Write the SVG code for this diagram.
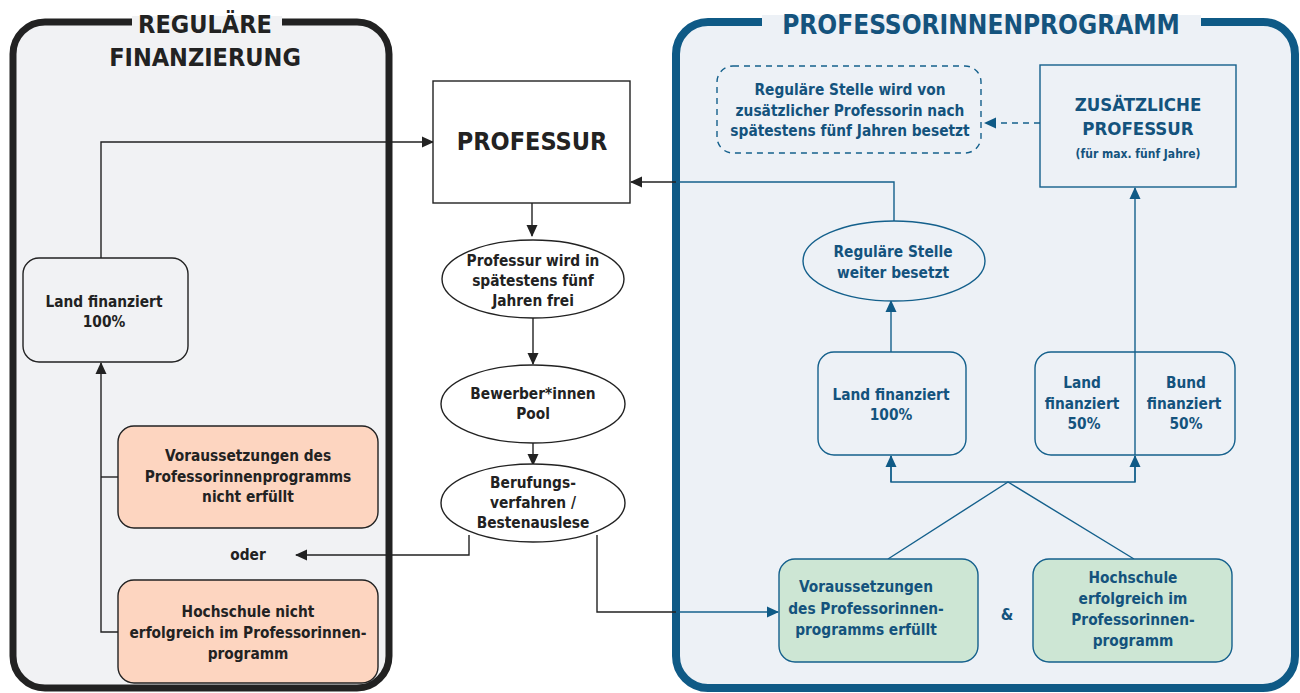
<svg xmlns="http://www.w3.org/2000/svg" width="1300" height="693" viewBox="0 0 1300 693">
<defs>
<marker id="ad" markerUnits="userSpaceOnUse" markerWidth="12" markerHeight="12" viewBox="0 0 12 12" refX="11" refY="6" orient="auto"><path d="M0,0.5 L12,6 L0,11.5 Z" fill="#222"/></marker>
<marker id="ab" markerUnits="userSpaceOnUse" markerWidth="12" markerHeight="12" viewBox="0 0 12 12" refX="11" refY="6" orient="auto"><path d="M0,0.5 L12,6 L0,11.5 Z" fill="#0f5a86"/></marker>
<style>
text{font-family:"DejaVu Sans Condensed","DejaVu Sans",sans-serif;font-weight:bold;text-anchor:middle}
.t{font-size:15.3px;fill:#222}
.tb{font-size:15.3px;fill:#14537d}
.h{font-size:25px;fill:#222}
.hb{font-size:26px;fill:#14537d}
.dk{fill:none;stroke:#222;stroke-width:1.4}
.bl{fill:none;stroke:#14608c;stroke-width:1.4}
.nd{stroke:#222;stroke-width:1.4}
.nb{stroke:#14608c;stroke-width:1.4}
</style>
</defs>
<rect width="1300" height="693" fill="#fff"/>
<g id="panel-left">
<rect x="13" y="22" width="376" height="666" rx="32" fill="#f1f2f4" stroke="#222" stroke-width="7"/>
<rect x="132" y="16" width="150" height="12" fill="#f1f2f4"/>
<text class="h" x="205" y="33">REGULÄRE</text>
<text class="h" x="205" y="66">FINANZIERUNG</text>
</g>
<g id="panel-right">
<rect x="676" y="22" width="619" height="666" rx="32" fill="#edf1f6" stroke="#0f5a86" stroke-width="8"/>
<rect x="762" y="15" width="439" height="14" fill="#edf1f6"/>
<text class="hb" x="981" y="34">PROFESSORINNENPROGRAMM</text>
</g>
<g id="connectors">
<path class="dk" d="M101,258 V142 H433" marker-end="url(#ad)"/>
<path class="dk" d="M532,203 V236" marker-end="url(#ad)"/>
<path class="dk" d="M533,318 V364" marker-end="url(#ad)"/>
<path class="dk" d="M533,443 V465" marker-end="url(#ad)"/>
<path class="dk" d="M469,535 V555 H296" marker-end="url(#ad)"/>
<path class="dk" d="M597,535 V612 H676"/>
<path class="bl" d="M676,612 H778" marker-end="url(#ab)"/>
<path class="dk" d="M118,632 H101 V363" marker-end="url(#ad)"/>
<path class="dk" d="M118,477 H101"/>
<path class="bl" d="M894,221 V182 H676"/>
<path class="dk" d="M676,182 H631" marker-end="url(#ad)"/>
<path class="bl" d="M891,352 V301" marker-end="url(#ab)"/>
<path class="bl" d="M891,456 V482 H1135 V456" />
<path class="bl" d="M891,482 V456" marker-end="url(#ab)"/>
<path class="bl" d="M1135,482 V456" marker-end="url(#ab)"/>
<path class="bl" d="M1135,455 V188" marker-end="url(#ab)"/>
<path class="bl" d="M888,559 L1008,482 L1134,559"/>
<path class="bl" d="M1040,123 H985" stroke-dasharray="6 5" marker-end="url(#ab)"/>
</g>
<g id="professur">
<rect class="nd" x="433" y="81" width="197" height="122" fill="#fff"/>
<text class="h" x="532" y="150">PROFESSUR</text>
</g>
<g id="frei">
<ellipse class="nd" cx="533" cy="279" rx="91" ry="39" fill="#fff"/>
<text class="t" x="533" y="266">Professur wird in</text>
<text class="t" x="533" y="286">spätestens fünf</text>
<text class="t" x="533" y="306">Jahren frei</text>
</g>
<g id="pool">
<ellipse class="nd" cx="533" cy="404" rx="92" ry="39" fill="#fff"/>
<text class="t" x="533" y="399">Bewerber*innen</text>
<text class="t" x="533" y="419">Pool</text>
</g>
<g id="berufung">
<ellipse class="nd" cx="533" cy="503" rx="92" ry="39" fill="#fff"/>
<text class="t" x="533" y="488">Berufungs-</text>
<text class="t" x="533" y="508">verfahren /</text>
<text class="t" x="533" y="528">Bestenauslese</text>
</g>
<g id="land-left">
<rect class="nd" x="23" y="258" width="165" height="104" rx="16" fill="#f1f2f4"/>
<text class="t" x="104" y="307">Land finanziert</text>
<text class="t" x="104" y="327">100%</text>
</g>
<g id="nicht-erfuellt">
<rect class="nd" x="118" y="426" width="260" height="102" rx="16" fill="#fdd5c0"/>
<text class="t" x="248" y="461">Voraussetzungen des</text>
<text class="t" x="248" y="482">Professorinnenprogramms</text>
<text class="t" x="248" y="502">nicht erfüllt</text>
</g>
<g id="oder">
<text class="t" x="248" y="560">oder</text>
</g>
<g id="nicht-erfolgreich">
<rect class="nd" x="118" y="580" width="260" height="103" rx="16" fill="#fdd5c0"/>
<text class="t" x="248" y="617">Hochschule nicht</text>
<text class="t" x="248" y="638">erfolgreich im Professorinnen-</text>
<text class="t" x="248" y="659">programm</text>
</g>
<g id="dashed-note">
<rect x="717" y="66" width="264" height="87" rx="16" fill="none" stroke="#14608c" stroke-width="1.4" stroke-dasharray="6 5"/>
<text class="tb" x="850" y="95">Reguläre Stelle wird von</text>
<text class="tb" x="850" y="116">zusätzlicher Professorin nach</text>
<text class="tb" x="850" y="136">spätestens fünf Jahren besetzt</text>
</g>
<g id="zusaetzliche">
<rect class="nb" x="1040" y="65" width="196" height="122" fill="none"/>
<text class="tb" x="1138" y="111" style="font-size:18.5px">ZUSÄTZLICHE</text>
<text class="tb" x="1138" y="135" style="font-size:18.5px">PROFESSUR</text>
<text class="tb" x="1138" y="158" style="font-size:12px">(für max. fünf Jahre)</text>
</g>
<g id="weiter-besetzt">
<ellipse class="nb" cx="894" cy="261" rx="91" ry="40" fill="#edf1f6"/>
<text class="tb" x="893" y="257">Reguläre Stelle</text>
<text class="tb" x="893" y="278">weiter besetzt</text>
</g>
<g id="land-right">
<rect class="nb" x="818" y="352" width="148" height="103" rx="16" fill="none"/>
<text class="tb" x="891" y="400">Land finanziert</text>
<text class="tb" x="891" y="420">100%</text>
</g>
<g id="land-bund">
<rect class="nb" x="1035" y="352" width="200" height="103" rx="16" fill="none"/>
<text class="tb" x="1082" y="388">Land</text>
<text class="tb" x="1082" y="409">finanziert</text>
<text class="tb" x="1084" y="429">50%</text>
<text class="tb" x="1186" y="388">Bund</text>
<text class="tb" x="1184" y="409">finanziert</text>
<text class="tb" x="1186" y="429">50%</text>
</g>
<g id="erfuellt">
<rect class="nb" x="779" y="559" width="199" height="103" rx="16" fill="#cde6d4"/>
<text class="tb" x="866" y="592">Voraussetzungen</text>
<text class="tb" x="866" y="614">des Professorinnen-</text>
<text class="tb" x="866" y="635">programms erfüllt</text>
</g>
<g id="und">
<text class="tb" x="1007" y="620" style="font-size:16px">&amp;</text>
</g>
<g id="erfolgreich">
<rect class="nb" x="1033" y="559" width="199" height="103" rx="16" fill="#cde6d4"/>
<text class="tb" x="1133" y="583">Hochschule</text>
<text class="tb" x="1133" y="604">erfolgreich im</text>
<text class="tb" x="1133" y="625">Professorinnen-</text>
<text class="tb" x="1133" y="646">programm</text>
</g>
</svg>
